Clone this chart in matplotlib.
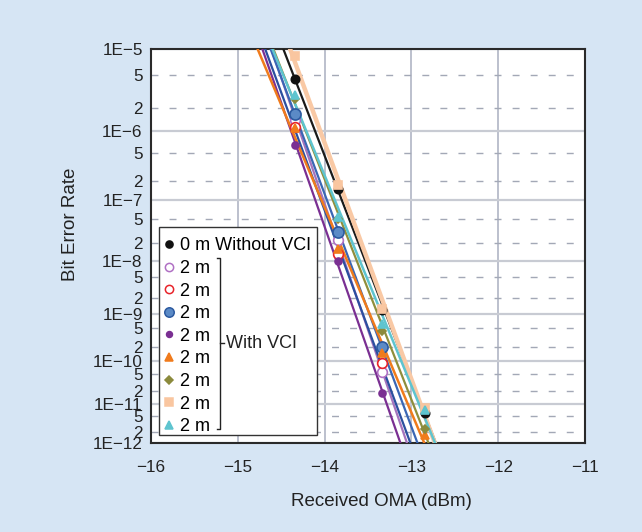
import numpy as np
import matplotlib
matplotlib.use("Agg")
import matplotlib.pyplot as plt
from matplotlib.lines import Line2D
from matplotlib.patches import Rectangle
from matplotlib.ticker import FixedLocator, FixedFormatter

plt.rcParams['font.family'] = ['Liberation Sans', 'DejaVu Sans']
plt.rcParams['lines.scale_dashes'] = False

# ---------------- data ----------------
oma = [-14.34, -13.84, -13.34, -12.84]          # received OMA (dBm)

ber_0m_novci = [4.5e-6, 1.5e-7, 1.2e-9, 6.0e-12]
ber_2m_a = [1.40e-6, 2.27e-8, 5.6e-11]           # open lavender circle
ber_2m_b = [1.13e-6, 1.30e-8, 9.2e-11]           # open red circle
ber_2m_c = [1.66e-6, 3.09e-8, 2.01e-10]          # filled blue circle
ber_2m_d = [6.47e-7, 9.8e-9, 1.85e-11]           # purple dot
ber_2m_e = [1.10e-6, 1.57e-8, 1.47e-10, 1.6e-12] # orange triangle
ber_2m_f = [2.6e-6, 5.0e-8, 4.5e-10, 2.3e-12]    # olive diamond
ber_2m_g = [8.35e-6, 1.71e-7, 1.21e-9, 7.7e-12]  # peach square
ber_2m_h = [2.86e-6, 5.55e-8, 6.1e-10, 7.0e-12]  # cyan triangle

labels = ["0 m Without VCI"] + ["2 m"] * 8
series = [ber_0m_novci, ber_2m_a, ber_2m_b, ber_2m_c, ber_2m_d,
          ber_2m_e, ber_2m_f, ber_2m_g, ber_2m_h]

major_ticks = [1e-5, 1e-6, 1e-7, 1e-8, 1e-9, 1e-10, 1e-11, 1e-12]
major_labels = ["1E\u22125", "1E\u22126", "1E\u22127", "1E\u22128",
                "1E\u22129", "1E\u221210", "1E\u221211", "1E\u221212"]
x_ticks = [-16, -15, -14, -13, -12, -11]
x_labels = ["\u221216", "\u221215", "\u221214", "\u221213", "\u221212", "\u221211"]

# ---------------- styles ----------------
styles = [
    dict(marker='o', ms=6, mfc='#111111', mec='#111111', line='#1a1a1a', lw=1.6),
    dict(marker='o', ms=7, mfc='white', mec='#b070c4', line='#a574bd', lw=1.6),
    dict(marker='o', ms=7, mfc='white', mec='#e8232a', line='#2b4f9f', lw=1.6),
    dict(marker='o', ms=8, mfc='#5b8ac6', mec='#2c5aa0', line='#3a66b4', lw=1.6),
    dict(marker='o', ms=5, mfc='#7a2f92', mec='#7a2f92', line='#7a2f92', lw=1.6),
    dict(marker='^', ms=6, mfc='#f07b1c', mec='#f07b1c', line='#f07b1c', lw=1.8),
    dict(marker='D', ms=4.5, mfc='#8b8a3c', mec='#8b8a3c', line='#8f8e3c', lw=1.6),
    dict(marker='s', ms=6, mfc='#f9c6a0', mec='#f9c6a0', line='#f9c9a5', lw=3.2),
    dict(marker='^', ms=6, mfc='#5ec4cf', mec='#5ec4cf', line='#5ec4cf', lw=1.8),
]


def fwd(b):
    b = np.asarray(b, dtype=float)
    with np.errstate(all='ignore'):
        out = -np.log10(-np.log10(np.clip(b, 1e-300, 0.999999)))
    return out


def inv(t):
    t = np.asarray(t, dtype=float)
    with np.errstate(all='ignore'):
        return 10.0 ** (-(10.0 ** (-t)))


fig = plt.figure(figsize=(6.42, 5.32), dpi=100, facecolor='#d6e5f4')
ax = fig.add_axes([151 / 642, 89 / 532, 434 / 642, 394 / 532])
ax.set_facecolor('white')
ax.set_yscale('function', functions=(fwd, inv))
ax.set_xlim(-16, -11)
ax.set_ylim(1e-12, 1e-5)

# fitted lines
xx = np.linspace(-15.6, -12.0, 200)
for ber, st in zip(series, styles):
    x = np.array(oma[:len(ber)])
    t = fwd(ber)
    p = np.polyfit(x, t, 1)
    ax.plot(xx, inv(np.polyval(p, xx)), color=st['line'], lw=st['lw'],
            zorder=3, solid_capstyle='butt')
for ber, st in zip(series, styles):
    ax.plot(oma[:len(ber)], ber, linestyle='none', marker=st['marker'],
            ms=st['ms'], mfc=st['mfc'], mec=st['mec'], mew=1.2, zorder=4)

# ticks
minor = []
minor_lab = []
for k in range(6, 13):
    minor += [5 * 10.0 ** (-k), 2 * 10.0 ** (-k)]
    minor_lab += ["5", "2"]
ax.yaxis.set_major_locator(FixedLocator(major_ticks))
ax.yaxis.set_major_formatter(FixedFormatter(major_labels))
ax.yaxis.set_minor_locator(FixedLocator(minor))
ax.yaxis.set_minor_formatter(FixedFormatter(minor_lab))
ax.set_xticks(x_ticks)
ax.set_xticklabels(x_labels)
ax.tick_params(which='both', length=0, labelsize=12.3, colors='#222222', pad=6)
ax.tick_params(axis='x', pad=12)

# grid
ax.set_axisbelow(True)
ax.xaxis.grid(True, which='major', color='#a9afc0', lw=1.1)
ax.yaxis.grid(True, which='major', color='#c8cbd3', lw=1.6)
ax.yaxis.grid(True, which='minor', color='#a3a8b6', lw=1.0, linestyle=(0, (5, 8)))

for s in ax.spines.values():
    s.set_color('#2a2a2a')
    s.set_linewidth(1.5)

ax.set_xlabel("Received OMA (dBm)", fontsize=13.5, color='#222222')
ax.xaxis.set_label_coords(0.53, -0.126)
ax.set_ylabel("Bit Error Rate", fontsize=13.5, color='#222222')
ax.yaxis.set_label_coords(-0.165, 0.556)

# legend box (drawn as a patch) + frameless legend
tr = ax.transAxes
box = Rectangle(((159 - 151) / 434, (443 - 435) / 394), (317 - 159) / 434,
                (435 - 227) / 394, transform=tr, facecolor='white',
                edgecolor='#333333', lw=1.0, zorder=5)
ax.add_patch(box)
handles = [Line2D([], [], linestyle='none', marker=st['marker'],
                  ms=st['ms'] * 0.85, mfc=st['mfc'], mec=st['mec'], mew=1.1)
           for st in styles]
leg = ax.legend(handles, labels, loc='upper left',
                bbox_to_anchor=(0.018, (443 - 232) / 394), fontsize=13,
                frameon=False, handlelength=0.55, handletextpad=0.3,
                labelspacing=0.31, borderpad=0.3, borderaxespad=0)
leg.set_zorder(6)

# bracket "With VCI"
bx = (220 - 151) / 434
ytop = (443 - 258) / 394
ybot = (443 - 429) / 394
ymid = (443 - 343) / 394
kw = dict(color='#222222', lw=1.0, transform=tr, zorder=7, clip_on=False)
ax.add_line(Line2D([bx - 0.007, bx, bx, bx - 0.007], [ytop, ytop, ybot, ybot], **kw))
ax.add_line(Line2D([bx, bx + 0.01], [ymid, ymid], **kw))
ax.text(bx + 0.013, ymid, "With VCI", transform=tr, fontsize=13,
        va='center', ha='left', color='#222222', zorder=7)

fig.savefig("out.png", dpi=100, facecolor=fig.get_facecolor())
